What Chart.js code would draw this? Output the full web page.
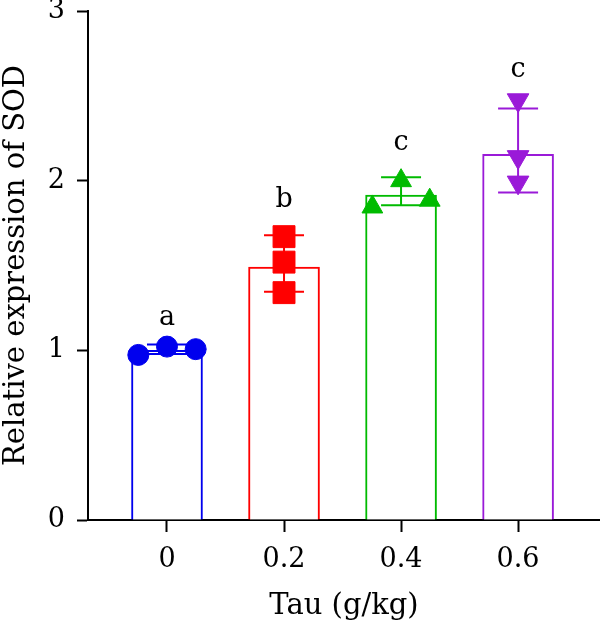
<!DOCTYPE html>
<html>
<head>
<meta charset="utf-8">
<script src="https://cdn.jsdelivr.net/npm/chart.js@4.4.1/dist/chart.umd.min.js"></script>
<style>
  html, body { margin: 0; padding: 0; background: #fff; overflow: hidden; }
  canvas { display: block; }
</style>
</head>
<body>
<canvas id="chart" width="600" height="623"></canvas>
<script>
  // values
  const doses = [0, 0.2, 0.4, 0.6];
  const doseLabels = ["0", "0.2", "0.4", "0.6"];
  const means = [1.0, 1.49, 1.915, 2.155];
  const errHigh = [1.035, 1.678, 2.02, 2.425];
  const errLow = [0.978, 1.345, 1.855, 1.93];
  const points0 = [0.973, 1.022, 1.007];
  const points02 = [1.67, 1.52, 1.34];
  const points04 = [1.845, 2.0, 1.885];
  const points06 = [2.475, 2.14, 1.99];
  const jitter0 = [-0.049, 0, 0.049];
  const jitter02 = [0, 0, 0];
  const jitter04 = [-0.049, 0, 0.049];
  const jitter06 = [0, 0, 0];
  const letters = ["a", "b", "c", "c"];
  const letterY = [1.15, 1.846, 2.18, 2.61];
  const yTicks = [0, 1, 2, 3];

  const colors = ["#0000ee", "#ff0000", "#00bb00", "#9a1ad8"];
  const markers = ["circle", "rect", "triangle", "triangle"];
  const markerRadius = [10.5, 15.5, 12, 12.5];
  const markerRotation = [0, 0, 0, 180];
  const groupPoints = [points0, points02, points04, points06];
  const groupJitter = [jitter0, jitter02, jitter04, jitter06];

  const FAMILY = "'DejaVu Serif', serif";
  const TICK_FONT = { family: FAMILY, size: 27 };
  const TITLE_FONT = { family: FAMILY, size: 29 };

  const errorBars = {
    id: "errorBars",
    afterDatasetDraw(chart, args) {
      if (args.meta.type !== "bar") return;
      const { ctx, scales: { x, y } } = chart;
      ctx.save();
      ctx.lineWidth = 2;
      doses.forEach((d, i) => {
        const px = x.getPixelForValue(d);
        const hi = y.getPixelForValue(errHigh[i]);
        const lo = y.getPixelForValue(errLow[i]);
        ctx.strokeStyle = colors[i];
        ctx.beginPath();
        ctx.moveTo(px, hi);
        ctx.lineTo(px, lo);
        ctx.moveTo(px - 20, hi);
        ctx.lineTo(px + 20, hi);
        ctx.moveTo(px - 20, lo);
        ctx.lineTo(px + 20, lo);
        ctx.stroke();
      });
      ctx.restore();
    }
  };

  const groupLetters = {
    id: "groupLetters",
    afterDraw(chart) {
      const { ctx, scales: { x, y } } = chart;
      ctx.save();
      ctx.font = `27px ${FAMILY}`;
      ctx.fillStyle = "#000";
      ctx.textAlign = "center";
      ctx.textBaseline = "alphabetic";
      letters.forEach((t, i) => {
        ctx.fillText(t, x.getPixelForValue(doses[i]), y.getPixelForValue(letterY[i]));
      });
      ctx.restore();
    }
  };

  const datasets = [
    {
      type: "bar",
      data: doses.map((d, i) => ({ x: d, y: means[i] })),
      backgroundColor: "#ffffff",
      borderColor: colors,
      borderWidth: 2,
      barThickness: 71,
      borderSkipped: "start",
      order: 3
    }
  ];
  groupPoints.forEach((pts, i) => {
    datasets.push({
      type: "scatter",
      data: pts.map((v, j) => ({ x: doses[i] + groupJitter[i][j], y: v })),
      pointStyle: markers[i],
      pointRadius: markerRadius[i],
      rotation: markerRotation[i],
      backgroundColor: colors[i],
      borderColor: colors[i],
      borderWidth: 1,
      order: 1
    });
  });

  new Chart(document.getElementById("chart"), {
    data: { datasets },
    options: {
      responsive: false,
      animation: false,
      layout: { autoPadding: false, padding: { top: 11, right: 0, left: 0, bottom: 0 } },
      plugins: {
        legend: { display: false },
        tooltip: { enabled: false }
      },
      scales: {
        x: {
          type: "linear",
          min: -0.135,
          max: 0.74,
          offset: false,
          afterBuildTicks: (axis) => {
            axis.ticks = doses.map((v) => ({ value: v }));
          },
          afterFit: (axis) => {
            axis.height = 103;
            axis.paddingLeft = 0;
            axis.paddingRight = 0;
          },
          ticks: {
            callback: (v) => doseLabels[doses.indexOf(v)],
            font: TICK_FONT,
            color: "#000",
            padding: 12,
            autoSkip: false,
            maxRotation: 0
          },
          grid: {
            offset: false,
            drawOnChartArea: false,
            drawTicks: true,
            tickLength: 12,
            tickWidth: 2,
            color: "#000"
          },
          border: { color: "#000", width: 2 },
          title: {
            display: true,
            text: "Tau (g/kg)",
            font: TITLE_FONT,
            color: "#000",
            padding: { top: 0, bottom: -1 }
          }
        },
        y: {
          min: 0,
          max: 3,
          afterBuildTicks: (axis) => {
            axis.ticks = yTicks.map((v) => ({ value: v }));
          },
          afterFit: (axis) => {
            axis.width = 88;
            axis.paddingTop = 0;
            axis.paddingBottom = 0;
          },
          ticks: {
            callback: (v) => String(v),
            font: TICK_FONT,
            color: "#000",
            padding: 12
          },
          grid: {
            drawOnChartArea: false,
            drawTicks: true,
            tickLength: 11,
            tickWidth: 2,
            color: "#000"
          },
          border: { color: "#000", width: 2 },
          title: {
            display: true,
            text: "Relative expression of SOD",
            font: TITLE_FONT,
            color: "#000",
            padding: { top: -1, bottom: 0 }
          }
        }
      }
    },
    plugins: [errorBars, groupLetters]
  });
</script>
</body>
</html>
